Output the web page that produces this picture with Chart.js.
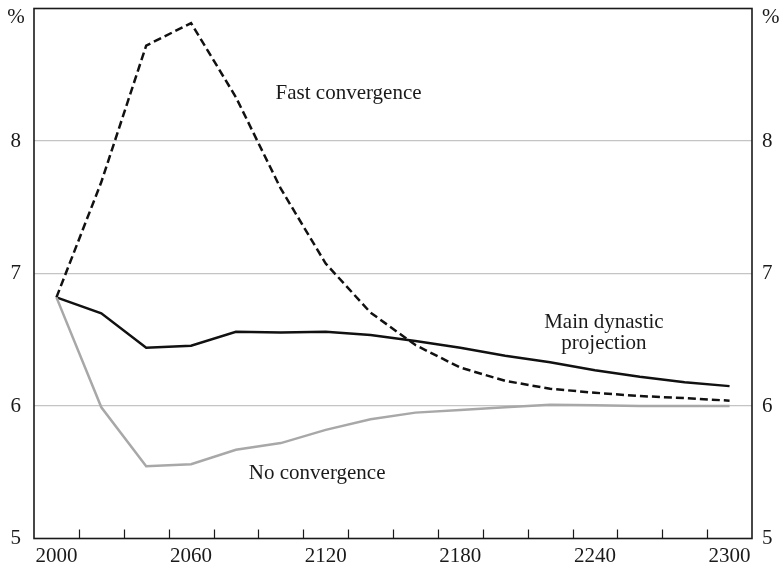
<!DOCTYPE html>
<html>
<head>
<meta charset="utf-8">
<script src="https://cdn.jsdelivr.net/npm/chart.js@4.4.1/dist/chart.umd.min.js"></script>
<style>
  html, body { margin: 0; padding: 0; background: #fff; }
  #wrap { width: 779px; height: 568px; position: relative; }
</style>
</head>
<body>
<div id="wrap"><canvas id="chart"></canvas></div>
<script>
const years = ["2000", "2020", "2040", "2060", "2080", "2100", "2120", "2140",
  "2160", "2180", "2200", "2220", "2240", "2260", "2280", "2300"];
const mainProjection = [6.82, 6.70, 6.44, 6.455, 6.56, 6.555, 6.56, 6.535,
  6.49, 6.44, 6.38, 6.33, 6.27, 6.22, 6.18, 6.15];
const fastConvergence = [6.82, 7.69, 8.72, 8.89, 8.33, 7.64, 7.075, 6.705,
  6.46, 6.29, 6.19, 6.13, 6.10, 6.075, 6.06, 6.04];
const noConvergence = [6.82, 5.99, 5.545, 5.56, 5.67, 5.72, 5.82, 5.90,
  5.95, 5.97, 5.99, 6.01, 6.005, 6.0, 6.0, 6.0];
const yTicks = [5, 6, 7, 8, 9];

const FONT = "'Liberation Serif', 'Times New Roman', serif";
const INK = "#1a1a1a";

// in-chart labels, anchored in data units
const notes = [
  { text: "Fast convergence", x: 6.51, y: 8.355 },
  { text: "Main dynastic", x: 12.2, y: 6.63 },
  { text: "projection", x: 12.2, y: 6.475 },
  { text: "No convergence", x: 5.81, y: 5.49 },
];

const framePlugin = {
  id: "frame",
  afterDatasetsDraw(chart) {
    const { ctx, chartArea: a, scales: { x, y } } = chart;
    ctx.save();
    // inward tick marks between categories
    ctx.strokeStyle = INK;
    ctx.lineWidth = 1.2;
    const half = (x.getPixelForValue(1) - x.getPixelForValue(0)) / 2;
    ctx.beginPath();
    for (let i = 0; i < years.length - 1; i++) {
      const px = Math.round(x.getPixelForValue(i) + half) + 0.5;
      ctx.moveTo(px, a.bottom);
      ctx.lineTo(px, a.bottom - 9);
    }
    ctx.stroke();
    // box
    ctx.lineWidth = 1.6;
    ctx.strokeRect(a.left, a.top, a.right - a.left, a.bottom - a.top);

    ctx.fillStyle = INK;
    ctx.font = "21px " + FONT;
    ctx.textAlign = "center";
    ctx.textBaseline = "middle";
    notes.forEach((n) => {
      ctx.fillText(n.text, x.getPixelForValue(n.x), y.getPixelForValue(n.y));
    });
    // unit markers
    ctx.fillText("%", 16, a.top + 9);
    ctx.textAlign = "left";
    ctx.fillText("%", a.right + 10, a.top + 9);
    ctx.restore();
  },
};

function yScale(position, width) {
  return {
    type: "linear",
    position: position,
    min: 5,
    max: 9,
    afterBuildTicks: (s) => { s.ticks = yTicks.map((v) => ({ value: v })); },
    afterFit: (s) => {
      s.width = width;
      s.paddingTop = 0;
      s.paddingBottom = 0;
    },
    border: { display: false },
    grid: {
      display: position === "left",
      drawTicks: false,
      color: (c) => (c.tick.value === 5 || c.tick.value === 9 ? "rgba(0,0,0,0)" : "#c4c4c4"),
      lineWidth: 1.2,
    },
    ticks: {
      padding: position === "left" ? 13 : 10,
      crossAlign: position === "left" ? "center" : "near",
      color: INK,
      font: { family: FONT, size: 21 },
      callback: (v) => (v === 9 ? "" : String(v)),
    },
  };
}

new Chart(document.getElementById("chart"), {
  type: "line",
  data: {
    labels: years,
    datasets: [
      {
        label: "No convergence",
        data: noConvergence,
        borderColor: "#a8a8a8",
        borderWidth: 2.5,
        pointRadius: 0,
        tension: 0,
      },
      {
        label: "Fast convergence",
        data: fastConvergence,
        borderColor: "#111",
        borderWidth: 2.5,
        borderDash: [8, 4],
        pointRadius: 0,
        tension: 0,
      },
      {
        label: "Main dynastic projection",
        data: mainProjection,
        borderColor: "#111",
        borderWidth: 2.5,
        pointRadius: 0,
        tension: 0,
      },
    ],
  },
  options: {
    responsive: true,
    maintainAspectRatio: false,
    animation: false,
    layout: { padding: { top: 8.5, left: 0, right: 0, bottom: 0 } },
    plugins: {
      legend: { display: false },
      tooltip: { enabled: false },
    },
    scales: {
      x: {
        type: "category",
        offset: true,
        afterFit: (s) => {
          s.height = 29.5;
          s.paddingLeft = 0;
          s.paddingRight = 0;
        },
        border: { display: false },
        grid: { display: false, drawTicks: false, offset: true },
        ticks: {
          autoSkip: false,
          maxRotation: 0,
          padding: 5,
          color: INK,
          font: { family: FONT, size: 21 },
          callback: function (v, i) { return i % 3 === 0 ? years[i] : ""; },
        },
      },
      y: yScale("left", 34),
      y2: yScale("right", 27),
    },
  },
  plugins: [framePlugin],
});
</script>
</body>
</html>
